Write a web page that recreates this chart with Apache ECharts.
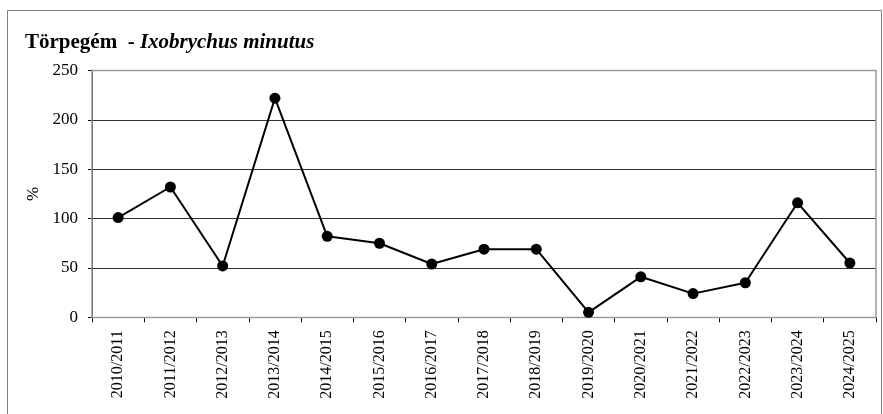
<!DOCTYPE html>
<html>
<head>
<meta charset="utf-8">
<script src="https://cdn.jsdelivr.net/npm/echarts@6/dist/echarts.min.js"></script>
<style>html,body{margin:0;padding:0;background:#fff;}#c{width:883px;height:414px;}</style>
</head>
<body>
<div id="c"></div>
<script>
const categories = ['2010/2011','2011/2012','2012/2013','2013/2014','2014/2015','2015/2016','2016/2017','2017/2018','2018/2019','2019/2020','2020/2021','2021/2022','2022/2023','2023/2024','2024/2025'];
const values = [101, 132, 52, 222, 82, 75, 54, 69, 69, 5, 41, 24, 35, 116, 55];
const yTicks = [0, 50, 100, 150, 200, 250];
const titleMain = 'Törpegém  - ';
const titleLatin = 'Ixobrychus minutus';
const yName = '%';

const font = '"Liberation Serif", "Times New Roman", serif';
const chart = echarts.init(document.getElementById('c'), null, {renderer: 'canvas'});
chart.setOption({
  animation: false,
  backgroundColor: '#fff',
  graphic: [
    {type: 'rect', shape: {x: 7.5, y: 10.5, width: 874, height: 410}, style: {fill: 'none', stroke: '#808080', lineWidth: 1}, z: 0},
    {type: 'rect', shape: {x: 92, y: 70.5, width: 784, height: 247}, style: {fill: 'none', stroke: '#9a9a9a', lineWidth: 1.5}, z: 1}
  ],
  title: {
    text: '{b|' + titleMain + '}{i|' + titleLatin + '}',
    left: 25, top: 32, padding: 0,
    textStyle: {
      rich: {
        b: {fontFamily: font, fontSize: 21, fontWeight: 'bold', color: '#000'},
        i: {fontFamily: font, fontSize: 21, fontWeight: 'bold', fontStyle: 'italic', color: '#000'}
      }
    }
  },
  grid: {left: 92, right: 7, top: 70.5, bottom: 96.7, containLabel: false},
  xAxis: {
    type: 'category',
    data: categories,
    boundaryGap: true,
    axisLine: {lineStyle: {color: '#000', width: 1}},
    axisTick: {show: true, length: 5, alignWithLabel: false, lineStyle: {color: '#000'}},
    axisLabel: {rotate: 90, margin: 13, fontFamily: font, fontSize: 16, color: '#000', interval: 0}
  },
  yAxis: {
    type: 'value',
    min: yTicks[0], max: yTicks[yTicks.length - 1], interval: 50,
    name: yName, nameLocation: 'middle', nameGap: 49, nameRotate: 90,
    nameTextStyle: {fontFamily: font, fontSize: 17, color: '#000'},
    axisLine: {show: true, lineStyle: {color: '#000', width: 1}},
    axisTick: {show: true, length: 4, lineStyle: {color: '#000'}},
    axisLabel: {fontFamily: font, fontSize: 17, color: '#000', margin: 14},
    splitLine: {show: true, lineStyle: {color: '#333', width: 1}}
  },
  series: [{
    type: 'line',
    data: values,
    symbol: 'circle',
    symbolSize: 11,
    lineStyle: {color: '#000', width: 2},
    itemStyle: {color: '#000'},
    z: 5
  }]
});
</script>
</body>
</html>
